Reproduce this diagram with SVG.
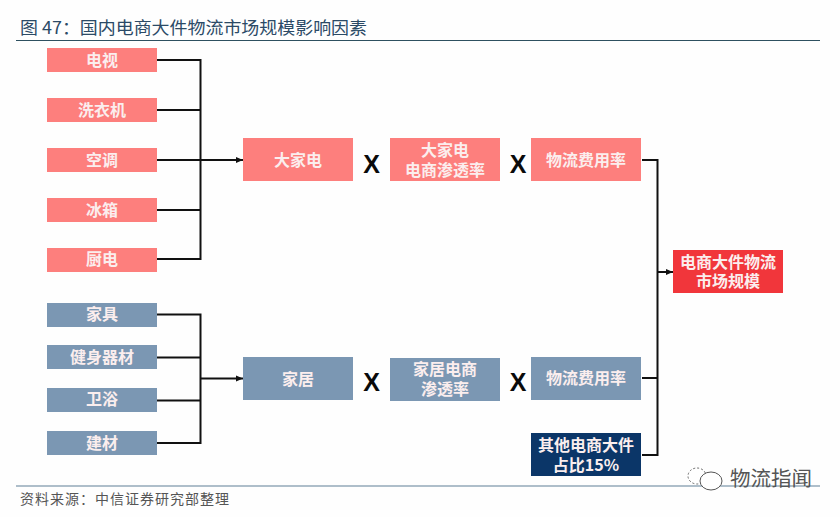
<svg xmlns="http://www.w3.org/2000/svg" width="840" height="517" viewBox="0 0 840 517">
<style>
.cjk{font-family:"Noto Sans CJK SC","Liberation Sans",sans-serif}
.n text{font-family:"Noto Sans CJK SC","Liberation Sans",sans-serif;font-size:16px;font-weight:700;fill:#fbeeee;text-anchor:middle}
.pink rect{fill:#fd7f7d}
.blue rect{fill:#7b97b3}
.navy rect{fill:#0b3668}
.red rect{fill:#f1363b}
.c path{fill:none;stroke:#111;stroke-width:2}
.x{font-family:"Liberation Sans",sans-serif;font-size:25px;font-weight:700;fill:#0a0a0a;text-anchor:middle}
</style>
<defs><marker id="a" markerUnits="userSpaceOnUse" markerWidth="8" markerHeight="8" refX="7" refY="4" orient="auto"><path d="M0 1L7 4L0 7z" fill="#111"/></marker></defs>
<rect width="840" height="517" fill="#fefefe"/>
<g id="header">
<text class="cjk" x="20" y="34" font-size="17" fill="#2b4a66" textLength="347" lengthAdjust="spacingAndGlyphs">图 47：国内电商大件物流市场规模影响因素</text>
<path d="M16 40.500H820" stroke="#2e5060" stroke-width="1.200"/>
</g>
<g id="connectors" class="c">
<path d="M157 60H200.500V259H157"/>
<path d="M157 110H200M157 160H200M157 210H200"/>
<path d="M200 160H243" marker-end="url(#a)"/>
<path d="M157 314.500H200.500V443H157"/>
<path d="M157 357.500H200M157 400.500H200"/>
<path d="M200 378.500H243" marker-end="url(#a)"/>
<path d="M642 160H657.500V455H642"/>
<path d="M642 378H657"/>
<path d="M657 272H673" marker-end="url(#a)"/>
</g>
<g id="n-tv" class="n pink"><rect x="47" y="48" width="110" height="24"/><text x="102" y="66">电视</text></g>
<g id="n-washer" class="n pink"><rect x="47" y="98" width="110" height="24"/><text x="102" y="116">洗衣机</text></g>
<g id="n-ac" class="n pink"><rect x="47" y="148" width="110" height="24"/><text x="102" y="166">空调</text></g>
<g id="n-fridge" class="n pink"><rect x="47" y="198" width="110" height="24"/><text x="102" y="216">冰箱</text></g>
<g id="n-kitchen" class="n pink"><rect x="47" y="248" width="110" height="24"/><text x="102" y="265">厨电</text></g>
<g id="n-furniture" class="n blue"><rect x="47" y="303" width="110" height="24"/><text x="102" y="320">家具</text></g>
<g id="n-fitness" class="n blue"><rect x="47" y="345" width="110" height="24"/><text x="102" y="363">健身器材</text></g>
<g id="n-bath" class="n blue"><rect x="47" y="388" width="110" height="24"/><text x="102" y="405">卫浴</text></g>
<g id="n-build" class="n blue"><rect x="47" y="431" width="110" height="24"/><text x="102" y="449">建材</text></g>
<g id="n-appliance" class="n pink"><rect x="243" y="138" width="110" height="43"/><text x="298" y="166">大家电</text></g>
<g id="n-home" class="n blue"><rect x="243" y="357" width="110" height="43"/><text x="298" y="385">家居</text></g>
<g id="n-apen" class="n pink"><rect x="390" y="138" width="110" height="43"/><text><tspan x="445" y="156">大家电</tspan><tspan x="445" y="176">电商渗透率</tspan></text></g>
<g id="n-hpen" class="n blue"><rect x="390" y="358" width="110" height="43"/><text><tspan x="445" y="375">家居电商</tspan><tspan x="445" y="395">渗透率</tspan></text></g>
<g id="n-arate" class="n pink"><rect x="531" y="138" width="110" height="43"/><text x="586" y="166">物流费用率</text></g>
<g id="n-hrate" class="n blue"><rect x="531" y="357" width="110" height="43"/><text x="586" y="384">物流费用率</text></g>
<g id="n-other" class="n navy"><rect x="531" y="433" width="110" height="43"/><text><tspan x="586" y="451">其他电商大件</tspan><tspan x="586" y="471">占比15%</tspan></text></g>
<g id="n-total" class="n red"><rect x="673" y="250" width="110" height="43"/><text><tspan x="728" y="268">电商大件物流</tspan><tspan x="728" y="287">市场规模</tspan></text></g>
<text class="x" x="371.500" y="173">X</text>
<text class="x" x="518" y="173">X</text>
<text class="x" x="371.500" y="391">X</text>
<text class="x" x="518" y="391">X</text>
<g id="footer">
<path d="M16 486H820" stroke="#5f7f96" stroke-width="1.200"/>
<text x="20" y="504" font-size="14" fill="#555" font-family="Noto Sans CJK SC,serif" textLength="209">资料来源：中信证券研究部整理</text>
</g>
<g id="watermark">
<ellipse cx="697" cy="476" rx="9" ry="8" fill="#fff" stroke="#666" stroke-dasharray="2 2"/>
<ellipse cx="711" cy="481" rx="11" ry="9" fill="#fff" stroke="#555"/>
<text x="730" y="486" font-size="20" fill="#555" font-family="Noto Sans CJK SC,sans-serif" textLength="82" lengthAdjust="spacingAndGlyphs">物流指闻</text>
</g>
</svg>
